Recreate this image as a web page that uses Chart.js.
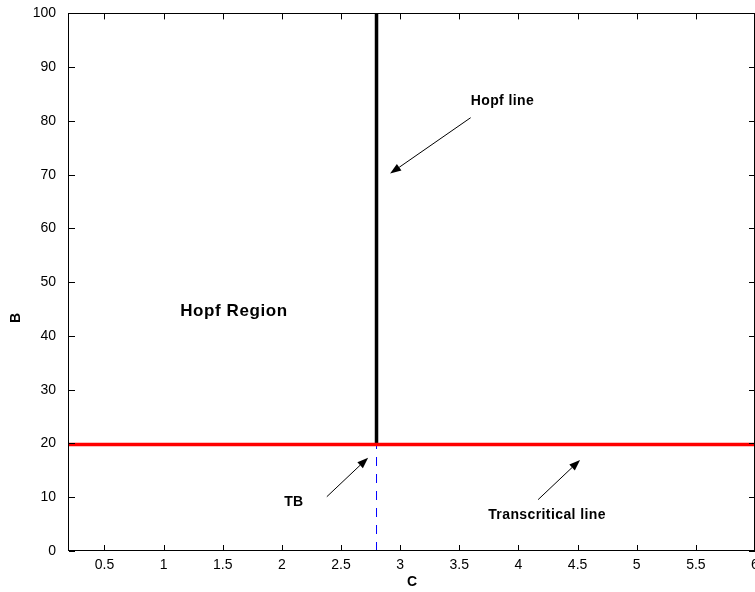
<!DOCTYPE html>
<html>
<head>
<meta charset="utf-8">
<script src="https://cdn.jsdelivr.net/npm/chart.js@4/dist/chart.umd.min.js"></script>
<style>
  html, body { margin: 0; padding: 0; overflow: hidden; background: #fff; }
  #wrap { position: absolute; left: 0; top: 0; width: 800px; height: 592px; }
</style>
</head>
<body>
<div id="wrap"><canvas id="c" width="800" height="592"></canvas></div>
<script>
// ─── DATA ────────────────────────────────────────────────
const xTicks = [0.5, 1, 1.5, 2, 2.5, 3, 3.5, 4, 4.5, 5, 5.5, 6];
const yTicks = [0, 10, 20, 30, 40, 50, 60, 70, 80, 90, 100];

// transcritical line (red)
const transC = [0.2, 6];
const transB = [19.8, 19.8];
// Hopf line (black, vertical)
const hopfC = [2.8, 2.8];
const hopfB = [19.8, 100];
// dashed line below TB point
const tbC = [2.8, 2.8];
const tbB = [0, 19.8];

// annotations: label, text anchor (C, B), arrow tail (C, B), arrow tip (C, B)
const noteLabels = ['Hopf line', 'TB', 'Transcritical line'];
const noteText   = [[3.596, 83.0], [2.019, 8.3], [3.744, 6.0]];
const noteTail   = [[3.596, 80.6], [2.38, 10.1], [4.166, 9.55]];
const noteTip    = [[2.915, 70.2], [2.729, 17.36], [4.521, 16.94]];
const regionLabel = 'Hopf Region';
const regionPos   = [1.14, 43.75];

// ─── CHART.JS DEFAULTS ───────────────────────────────────
Chart.defaults.color       = '#000';
Chart.defaults.font.family = "'Liberation Sans', Arial, sans-serif";
Chart.defaults.font.size   = 14;

const FONT = "'Liberation Sans', Arial, sans-serif";
const pts = (xs, ys) => xs.map((x, i) => ({ x, y: ys[i] }));

// ─── FRAME, INWARD TICKS, NOTES ──────────────────────────
const decor = {
  id: 'decor',
  afterDraw(chart) {
    const { ctx, chartArea: a, scales: { x, y } } = chart;
    ctx.save();
    ctx.strokeStyle = '#000';
    ctx.lineWidth = 1;
    ctx.strokeRect(Math.round(a.left) - 0.5, Math.round(a.top) + 0.5,
                   Math.round(a.right - a.left), Math.round(a.bottom - a.top) - 1);

    ctx.beginPath();
    xTicks.forEach(v => {
      const px = Math.round(x.getPixelForValue(v)) + 0.5;
      ctx.moveTo(px, a.bottom); ctx.lineTo(px, a.bottom - 6);
      ctx.moveTo(px, a.top);    ctx.lineTo(px, a.top + 6);
    });
    yTicks.forEach(v => {
      const py = Math.round(y.getPixelForValue(v)) + 0.5;
      ctx.moveTo(a.left, py);  ctx.lineTo(a.left + 6, py);
      ctx.moveTo(a.right, py); ctx.lineTo(a.right - 6, py);
    });
    ctx.stroke();

    // arrows
    ctx.fillStyle = '#000';
    noteLabels.forEach((t, i) => {
      const x0 = x.getPixelForValue(noteTail[i][0]), y0 = y.getPixelForValue(noteTail[i][1]);
      const x1 = x.getPixelForValue(noteTip[i][0]),  y1 = y.getPixelForValue(noteTip[i][1]);
      const ang = Math.atan2(y1 - y0, x1 - x0);
      const L = 11, W = 4;
      const bx = x1 - L * Math.cos(ang), by = y1 - L * Math.sin(ang);
      ctx.beginPath();
      ctx.moveTo(x0, y0); ctx.lineTo(bx, by);
      ctx.stroke();
      ctx.beginPath();
      ctx.moveTo(x1, y1);
      ctx.lineTo(bx + W * Math.sin(ang), by - W * Math.cos(ang));
      ctx.lineTo(bx - W * Math.sin(ang), by + W * Math.cos(ang));
      ctx.closePath();
      ctx.fill();
    });

    // texts
    ctx.textBaseline = 'alphabetic';
    ctx.textAlign = 'left';
    ctx.letterSpacing = '0.4px';
    ctx.font = 'bold 14px ' + FONT;
    noteLabels.forEach((t, i) => {
      ctx.fillText(t, x.getPixelForValue(noteText[i][0]), y.getPixelForValue(noteText[i][1]));
    });
    ctx.font = 'bold 17px ' + FONT;
    ctx.letterSpacing = '0.6px';
    ctx.fillText(regionLabel, x.getPixelForValue(regionPos[0]), y.getPixelForValue(regionPos[1]));

    // y axis title
    ctx.letterSpacing = '0px';
    ctx.font = 'bold 14px ' + FONT;
    ctx.translate(16, 318);
    ctx.rotate(-Math.PI / 2);
    ctx.textAlign = 'center';
    ctx.textBaseline = 'middle';
    ctx.fillText('B', 0, 0);
    ctx.restore();
  }
};

// ─── CHART ───────────────────────────────────────────────
new Chart(document.getElementById('c').getContext('2d'), {
  type: 'scatter',
  data: {
    datasets: [
      { data: pts(transC, transB), showLine: true, borderColor: '#ff0000', borderWidth: 3.5, pointRadius: 0 },
      { data: pts(hopfC, hopfB),   showLine: true, borderColor: '#000000', borderWidth: 3.5, pointRadius: 0 },
      { data: pts(tbC, tbB),       showLine: true, borderColor: '#0000ff', borderWidth: 1, borderDash: [9, 8], pointRadius: 0 }
    ]
  },
  options: {
    responsive: false,
    animation: false,
    layout: { padding: { top: 9, right: 45, bottom: 0, left: 0 } },
    plugins: { legend: { display: false }, tooltip: { enabled: false } },
    scales: {
      x: {
        type: 'linear', min: 0.2, max: 6,
        afterBuildTicks: s => { s.ticks = xTicks.map(v => ({ value: v })); },
        afterFit: s => { s.height = 41; s.paddingLeft = 0; s.paddingRight = 0; },
        ticks: { padding: -2, maxRotation: 0, autoSkip: false, callback: v => String(v) },
        grid: { display: false },
        border: { display: false },
        title: { display: true, text: 'C', font: { size: 14, weight: 'bold' }, padding: { top: 0, bottom: 1 } }
      },
      y: {
        type: 'linear', min: 0, max: 100,
        afterBuildTicks: s => { s.ticks = yTicks.map(v => ({ value: v })); },
        afterFit: s => { s.width = 69; },
        ticks: { padding: 5, autoSkip: false },
        grid: { display: false },
        border: { display: false }
      }
    }
  },
  plugins: [decor]
});
</script>
</body>
</html>
